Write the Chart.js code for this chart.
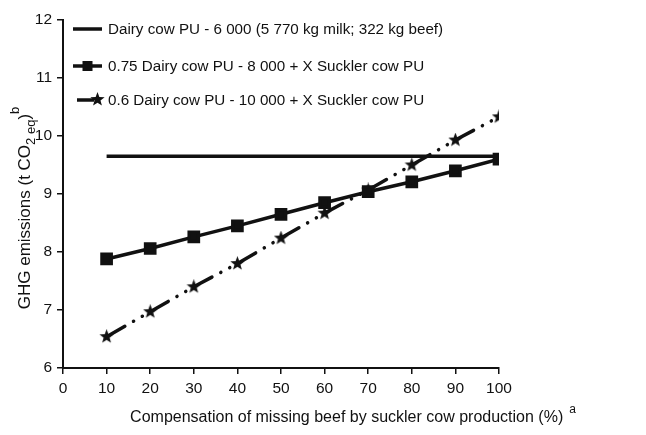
<!DOCTYPE html>
<html>
<head>
<meta charset="utf-8">
<script src="https://cdn.jsdelivr.net/npm/chart.js@4.4.0/dist/chart.umd.min.js"></script>
<style>
  html, body { margin: 0; padding: 0; background: #fff; }
  #wrap { width: 646px; height: 435px; }
</style>
</head>
<body>
<div id="wrap"><canvas id="chart" width="646" height="435"></canvas></div>
<script>
// compensation of missing beef (%)
const pct = [10, 20, 30, 40, 50, 60, 70, 80, 90, 100];
const dairy6000 = [9.65, 9.65, 9.65, 9.65, 9.65, 9.65, 9.65, 9.65, 9.65, 9.65];
const dairy8000 = [7.88, 8.06, 8.26, 8.45, 8.65, 8.85, 9.04, 9.21, 9.40, 9.60];
const dairy10000 = [6.54, 6.97, 7.40, 7.80, 8.24, 8.67, 9.07, 9.50, 9.93, 10.33];
const seriesLabels = [
  'Dairy cow PU - 6 000 (5 770 kg milk; 322 kg beef)',
  '0.75 Dairy cow PU - 8 000 + X Suckler cow PU',
  '0.6 Dairy cow PU - 10 000 + X Suckler cow PU'
];

const FONT = '"Liberation Sans", Arial, sans-serif';
const INK = '#111';

const toXY = arr => arr.map((v, i) => ({ x: pct[i], y: v }));

// small filled star used as marker
function makeStar(size) {
  const c = document.createElement('canvas');
  c.width = size; c.height = size;
  const g = c.getContext('2d');
  const cx = size / 2, cy = size / 2, R = size / 2, r = R * 0.42;
  g.beginPath();
  for (let i = 0; i < 10; i++) {
    const a = -Math.PI / 2 + i * Math.PI / 5;
    const rad = i % 2 ? r : R;
    g.lineTo(cx + rad * Math.cos(a), cy + rad * Math.sin(a));
  }
  g.closePath();
  g.fillStyle = INK;
  g.fill();
  return c;
}
const starImg = makeStar(15);

// legend drawn inside plot + axis titles with sub/superscripts
const extras = {
  id: 'extras',
  afterDraw(chart) {
    const ctx = chart.ctx;
    const area = chart.chartArea;
    ctx.save();
    ctx.fillStyle = INK;
    ctx.strokeStyle = INK;
    ctx.textBaseline = 'middle';

    // legend
    const rows = [29, 66, 100];
    chart.data.datasets.forEach((ds, i) => {
      const y = rows[i];
      const x0 = area.left + 10, x1 = x0 + 29;
      ctx.lineWidth = 3.5;
      ctx.setLineDash([]);
      ctx.beginPath();
      ctx.moveTo(i === 2 ? x0 + 4 : x0, y); ctx.lineTo(i === 2 ? x1 - 8 : x1, y);
      ctx.stroke();
      if (i === 1) ctx.fillRect((x0 + x1) / 2 - 5, y - 5, 10, 10);
      if (i === 2) ctx.drawImage(starImg, x1 - 12, y - 8);
      ctx.font = '15.2px ' + FONT;
      ctx.textAlign = 'left';
      ctx.fillText(ds.label, x1 + 6, y + 1);
    });

    // x title
    const xt = 'Compensation of missing beef by suckler cow production (%)';
    ctx.font = '16px ' + FONT;
    const w1 = ctx.measureText(xt).width;
    ctx.font = '12px ' + FONT;
    const w2 = ctx.measureText('a').width;
    let sx = 353 - (w1 + 6 + w2) / 2;
    ctx.font = '16px ' + FONT;
    ctx.textAlign = 'left';
    ctx.fillText(xt, sx, 418);
    ctx.font = '12px ' + FONT;
    ctx.fillText('a', sx + w1 + 6, 410);

    // y title (rotated)
    ctx.translate(25, 208);
    ctx.rotate(-Math.PI / 2);
    const parts = [
      { t: 'GHG emissions (t CO', f: 17, dy: 0 },
      { t: '2 eq', f: 13, dy: 6 },
      { t: ')', f: 17, dy: 0 },
      { t: 'b', f: 13, dy: -10 }
    ];
    let total = 0;
    parts.forEach(p => { ctx.font = p.f + 'px ' + FONT; p.w = ctx.measureText(p.t).width; total += p.w; });
    let px = -total / 2;
    parts.forEach(p => {
      ctx.font = p.f + 'px ' + FONT;
      ctx.fillText(p.t, px, p.dy);
      px += p.w;
    });
    ctx.restore();
  }
};

new Chart(document.getElementById('chart'), {
  type: 'line',
  data: {
    datasets: [
      {
        label: seriesLabels[0],
        data: toXY(dairy6000),
        borderColor: INK,
        borderWidth: 3.5,
        pointRadius: 0
      },
      {
        label: seriesLabels[1],
        data: toXY(dairy8000),
        borderColor: INK,
        backgroundColor: INK,
        borderWidth: 3.5,
        pointStyle: 'rect',
        pointRadius: 6.5
      },
      {
        label: seriesLabels[2],
        data: toXY(dairy10000),
        borderColor: INK,
        backgroundColor: INK,
        borderWidth: 3.5,
        borderCapStyle: 'round',
        borderDash: [21, 10, 0.1, 10, 0.1, 8.8],
        pointStyle: starImg
      }
    ]
  },
  options: {
    responsive: false,
    animation: false,
    layout: { padding: { left: 0, right: 147, top: 20, bottom: 0 } },
    plugins: { legend: { display: false }, tooltip: { enabled: false } },
    scales: {
      x: {
        type: 'linear',
        min: 0, max: 100,
        afterFit: s => { s.height = 67; },
        ticks: { stepSize: 10, color: INK, font: { family: FONT, size: 15.5 }, padding: 5 },
        grid: { drawOnChartArea: false, drawTicks: true, tickLength: 6, color: INK, lineWidth: 1.5 },
        border: { color: INK, width: 2 }
      },
      y: {
        min: 6, max: 12,
        afterFit: s => { s.width = 63; },
        ticks: { stepSize: 1, color: INK, font: { family: FONT, size: 15.5 }, padding: 5 },
        grid: { drawOnChartArea: false, drawTicks: true, tickLength: 6, color: INK, lineWidth: 1.5 },
        border: { color: INK, width: 2 }
      }
    }
  },
  plugins: [extras]
});
</script>
</body>
</html>
